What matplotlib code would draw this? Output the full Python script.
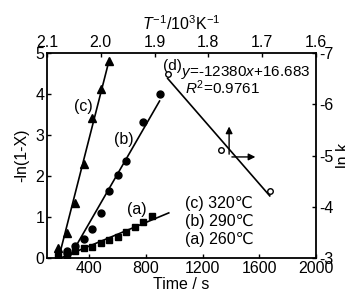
import numpy as np
import matplotlib
matplotlib.use('Agg')
import matplotlib.pyplot as plt

plt.rcParams['font.family'] = ['Liberation Sans', 'DejaVu Sans']
plt.rcParams['mathtext.fontset'] = 'custom'
plt.rcParams['mathtext.rm'] = 'Liberation Sans'
plt.rcParams['mathtext.it'] = 'Liberation Sans:italic'
plt.rcParams['font.size'] = 11.5
plt.rcParams['axes.unicode_minus'] = False

# (a) 260 C, (b) 290 C, (c) 320 C : -ln(1-X) vs time
t_a = [180, 240, 300, 360, 420, 480, 540, 600, 660, 720, 780, 840]
y_a = [0.05, 0.07, 0.18, 0.24, 0.28, 0.36, 0.44, 0.52, 0.63, 0.75, 0.87, 1.03]
t_b = [240, 240, 300, 360, 420, 480, 540, 600, 660, 780, 900]
y_b = [0.18, 0.11, 0.30, 0.47, 0.71, 1.09, 1.64, 2.02, 2.37, 3.31, 3.99]
t_c = [180, 240, 300, 360, 420, 480, 540]
y_c = [0.25, 0.62, 1.33, 2.29, 3.41, 4.11, 4.81]
fit_end = {'a': 960, 'b': 895, 'c': 540}

# (d) Arrhenius plot: 1/T (10^3 K^-1) vs ln k
temps_C = [260, 290, 320]
lnk = [-6.59, -5.11, -4.31]
invT = [1000.0 / (c + 273.15) for c in temps_C]

fig = plt.figure(figsize=(3.45, 3.04), dpi=100)
rect = [47 / 345, 46 / 304, 269 / 345, 205 / 304]
ax = fig.add_axes(rect)

for tt, yy, mk, ms, key in [(t_a, y_a, 's', 4.5, 'a'), (t_b, y_b, 'o', 5, 'b'), (t_c, y_c, '^', 6, 'c')]:
    ax.plot(tt, yy, mk, color='k', ms=ms, ls='none')
    k, b = np.polyfit(tt, yy, 1)
    xs = np.array([-b / k, fit_end[key]])
    ax.plot(xs, k * xs + b, color='k', lw=1.2)

ax.set_xlim(100, 2000)
ax.set_ylim(0, 5)
ax.set_xticks([400, 800, 1200, 1600, 2000])
ax.set_yticks([0, 1, 2, 3, 4, 5])
ax.set_xlabel('Time / s', labelpad=1)
ax.set_ylabel('-ln(1-X)', labelpad=4)
ax.tick_params(direction='in', length=3, width=1, pad=2)
for s in ax.spines.values():
    s.set_linewidth(1.3)

ax.text(0.134, 0.741, '(c)', transform=ax.transAxes, ha='center', va='center')
ax.text(0.286, 0.580, '(b)', transform=ax.transAxes, ha='center', va='center')
ax.text(0.335, 0.239, '(a)', transform=ax.transAxes, ha='center', va='center')
for i, (lab, c) in enumerate(zip(['(c)', '(b)', '(a)'], temps_C[::-1])):
    ax.text(0.513, 0.268 - i * 0.09, f'{lab} {c}\u2103', transform=ax.transAxes,
            ha='left', va='center')

# second axes for Arrhenius plot (top x, right y)
ax2 = fig.add_axes(rect, frameon=False)
ax2.plot(invT, lnk, 'o', color='k', mfc='white', ms=4, mew=1)
k, b = np.polyfit(invT, lnk, 1)
xs = np.array([invT[0], invT[-1]])
ax2.plot(xs, k * xs + b, color='k', lw=1.2)
ax2.set_xlim(2.1, 1.6)
ax2.set_ylim(-3, -7)
ax2.xaxis.tick_top()
ax2.xaxis.set_label_position('top')
ax2.yaxis.tick_right()
ax2.yaxis.set_label_position('right')
ax2.set_xticks([2.1, 2.0, 1.9, 1.8, 1.7, 1.6])
ax2.set_xticklabels(['2.1', '2.0', '1.9', '1.8', '1.7', '1.6'])
ax2.set_yticks([-7, -6, -5, -4, -3])
ax2.tick_params(direction='in', length=3, width=1, pad=2)
ax2.set_xlabel(r'$T^{-1}$/10$^3$K$^{-1}$', labelpad=4)
ax2.set_ylabel('ln k', labelpad=2)

ax.text(0.468, 0.935, '(d)', transform=ax.transAxes, ha='center', va='center', fontsize=11)
ax.text(0.498, 0.905, r'$y$=-12380$x$+16.683', transform=ax.transAxes, ha='left', va='center',
        fontsize=11)
ax.text(0.513, 0.829, r'$R^2$=0.9761', transform=ax.transAxes, ha='left', va='center', fontsize=11)
ax.annotate('', xy=(0.677, 0.655), xytext=(0.677, 0.493), xycoords='axes fraction',
            arrowprops=dict(arrowstyle='-|>', color='k', lw=1, mutation_scale=10))
ax.annotate('', xy=(0.785, 0.493), xytext=(0.677, 0.493), xycoords='axes fraction',
            arrowprops=dict(arrowstyle='-|>', color='k', lw=1, mutation_scale=10))

fig.savefig('out.png', dpi=100)
